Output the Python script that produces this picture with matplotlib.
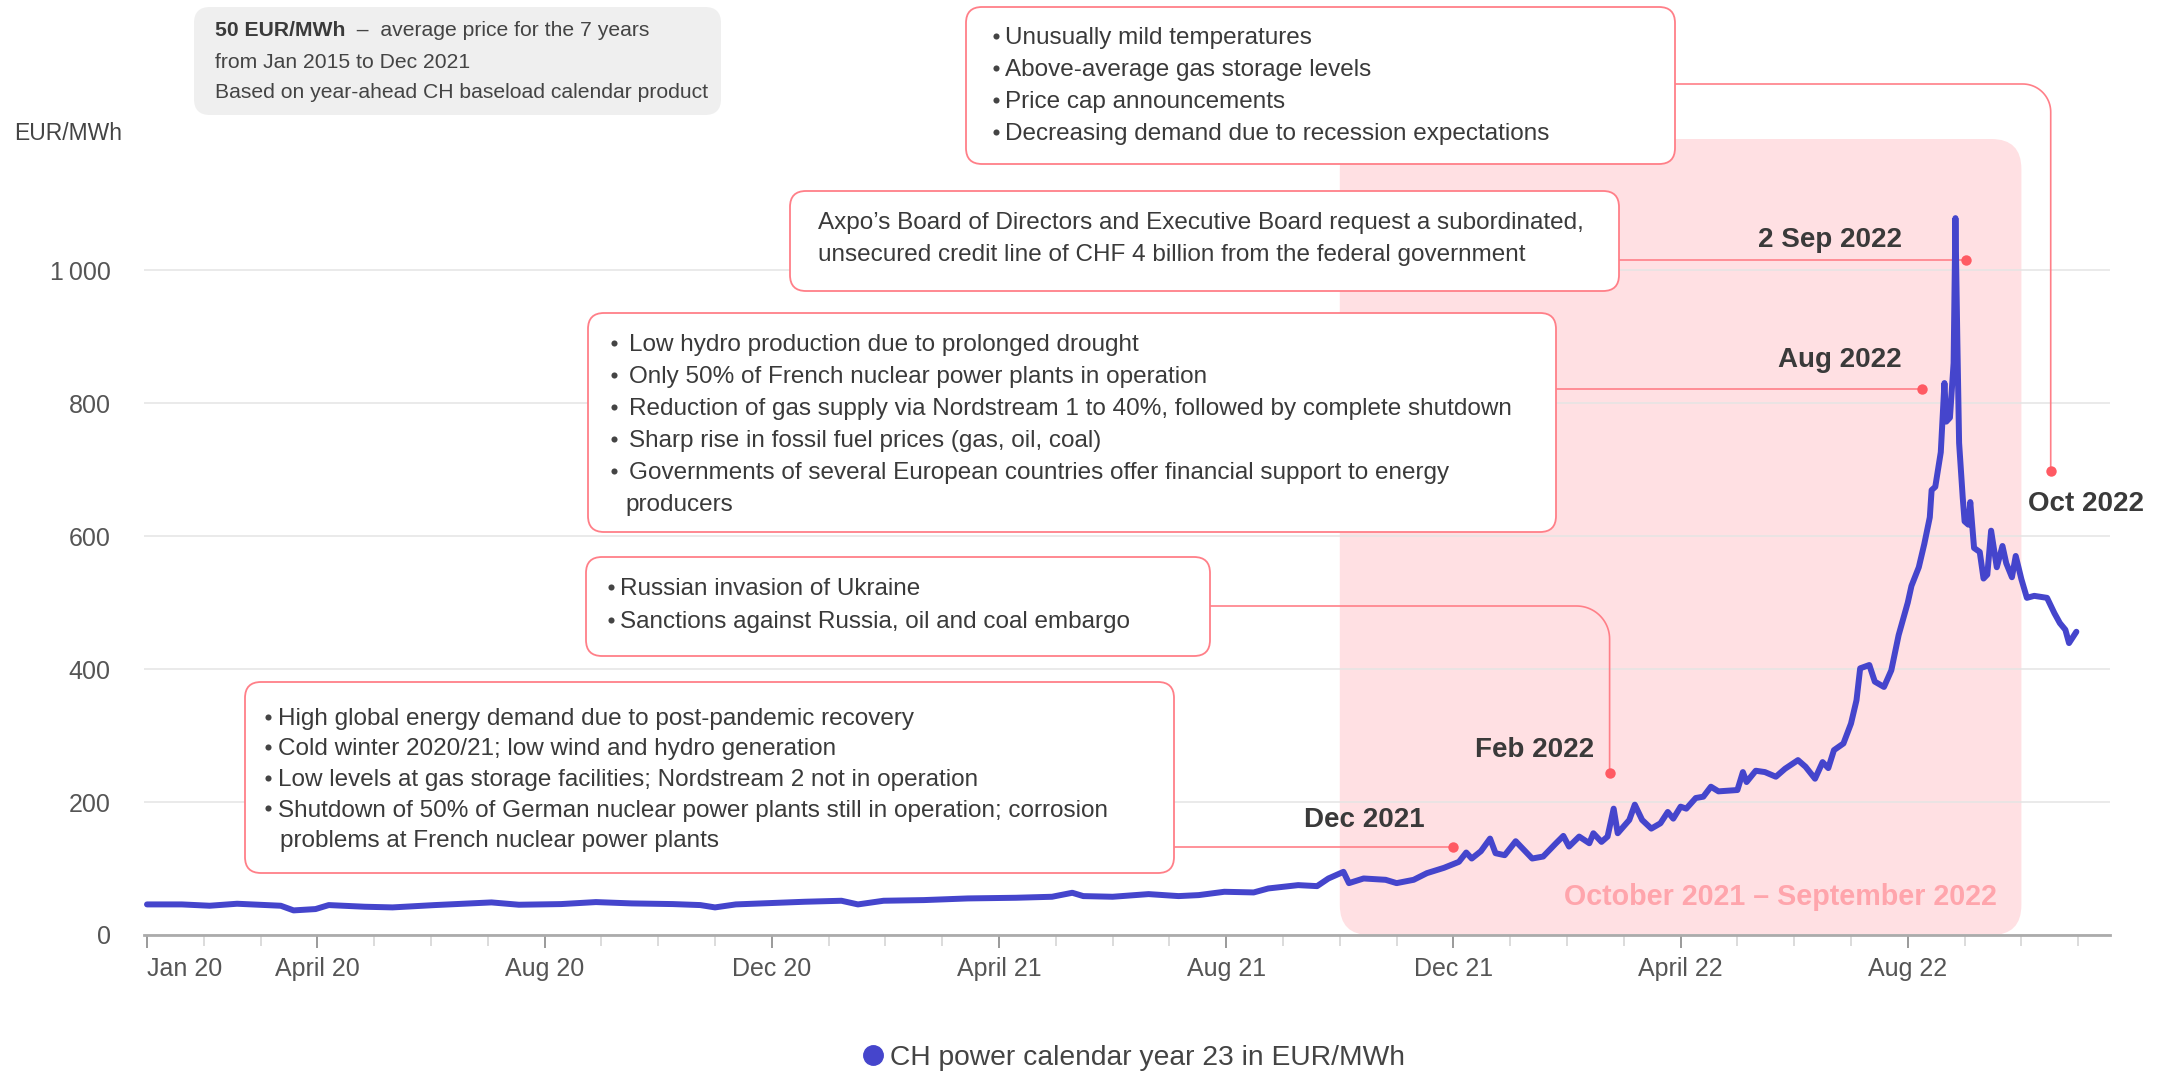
import numpy as np
import pandas as pd
import matplotlib
matplotlib.use("Agg")
import matplotlib.pyplot as plt
import matplotlib.transforms as mtransforms
from matplotlib.patches import FancyBboxPatch
from matplotlib.lines import Line2D

plt.rcParams['font.family'] = ['Liberation Sans', 'DejaVu Sans']

# ---------------- data ----------------
dates = [
    "2020-01-01", "2020-01-20", "2020-02-04", "2020-02-18", "2020-03-12", "2020-03-19", "2020-03-31",
    "2020-04-07", "2020-04-26", "2020-05-11", "2020-06-03", "2020-07-03", "2020-07-18", "2020-08-10",
    "2020-08-29", "2020-09-17", "2020-10-09", "2020-10-24", "2020-11-01", "2020-11-12", "2020-12-01",
    "2020-12-19", "2021-01-08", "2021-01-17", "2021-01-31", "2021-02-20", "2021-03-15", "2021-04-10",
    "2021-04-29", "2021-05-10", "2021-05-16", "2021-06-01", "2021-06-20", "2021-07-06", "2021-07-17",
    "2021-07-31", "2021-08-16", "2021-08-24", "2021-09-09", "2021-09-19", "2021-09-25", "2021-10-03",
    "2021-10-06", "2021-10-14", "2021-10-26", "2021-11-01", "2021-11-10", "2021-11-17", "2021-11-26",
    "2021-12-04", "2021-12-08", "2021-12-11", "2021-12-16", "2021-12-21", "2021-12-24", "2021-12-29",
    "2022-01-04", "2022-01-13", "2022-01-19", "2022-01-26", "2022-01-30", "2022-02-02", "2022-02-07",
    "2022-02-12", "2022-02-14", "2022-02-18", "2022-02-21", "2022-02-24", "2022-02-26", "2022-03-04",
    "2022-03-07", "2022-03-11", "2022-03-16", "2022-03-21", "2022-03-25", "2022-03-28", "2022-04-01",
    "2022-04-04", "2022-04-09", "2022-04-13", "2022-04-17", "2022-04-21", "2022-04-26", "2022-05-01",
    "2022-05-04", "2022-05-06", "2022-05-11", "2022-05-16", "2022-05-22", "2022-05-27", "2022-06-03",
    "2022-06-07", "2022-06-12", "2022-06-16", "2022-06-19", "2022-06-22", "2022-06-27", "2022-07-01",
    "2022-07-04", "2022-07-06", "2022-07-11", "2022-07-14", "2022-07-19", "2022-07-23", "2022-07-27",
    "2022-08-01", "2022-08-03", "2022-08-07", "2022-08-10", "2022-08-13", "2022-08-14", "2022-08-16",
    "2022-08-19", "2022-08-21", "2022-08-22", "2022-08-24", "2022-08-26", "2022-08-27", "2022-08-28",
    "2022-08-29", "2022-08-31", "2022-09-01", "2022-09-03", "2022-09-04", "2022-09-06", "2022-09-09",
    "2022-09-11", "2022-09-13", "2022-09-15", "2022-09-18", "2022-09-21", "2022-09-23", "2022-09-26",
    "2022-09-28", "2022-10-01", "2022-10-04", "2022-10-08", "2022-10-15", "2022-10-19", "2022-10-22",
    "2022-10-25", "2022-10-27", "2022-10-31",
]
prices = [
    46, 46, 44, 47, 44, 37, 39,
    45, 42.5, 41.5, 45, 49, 45.5, 46.5,
    49.5, 47.5, 46.5, 45, 41.5, 46, 48,
    50, 51.5, 46, 51.5, 52.5, 55, 56,
    57.5, 63.5, 58.5, 57.5, 61.5, 58.5, 60,
    65, 64, 70, 75, 73.5, 85, 95,
    78, 85, 83, 78, 83, 93, 101,
    110, 124, 115, 126, 145, 123, 120,
    141, 115, 118, 138, 149, 133, 148,
    138, 153, 140, 148, 190, 153, 173,
    196, 173, 160, 168, 185, 175, 193,
    190, 206, 208, 223, 216, 217, 218,
    245, 230, 247, 245, 238, 250, 263,
    253, 235, 260, 251, 278, 288, 318,
    353, 401, 406, 381, 373, 398, 451,
    500, 525, 553, 588, 628, 669, 674,
    726, 830, 772, 778, 860, 1078, 900,
    740, 657, 622, 617, 651, 582, 576,
    536, 542, 608, 553, 585, 559, 538,
    570, 535, 507, 510, 507, 484, 469,
    459, 439, 456,
]
series_label = "CH power calendar year 23 in EUR/MWh"

y_ticks = [0, 200, 400, 600, 800, 1000]
y_tick_labels = ["0", "200", "400", "600", "800", "1\u2009000"]
x_tick_dates = ["2020-01-01", "2020-04-01", "2020-08-01", "2020-12-01", "2021-04-01",
                "2021-08-01", "2021-12-01", "2022-04-01", "2022-08-01"]
x_tick_labels = ["Jan 20", "April 20", "Aug 20", "Dec 20", "April 21",
                 "Aug 21", "Dec 21", "April 22", "Aug 22"]
minor_tick_range = ("2020-01-01", "2022-11-01")
period_start, period_end = "2021-10-01", "2022-10-01"
period_label = "October 2021 \u2013 September 2022"

event_labels = ["Dec 2021", "Feb 2022", "Aug 2022", "2 Sep 2022", "Oct 2022"]
event_dates = ["2021-12-01", "2022-02-22", "2022-08-09", "2022-09-02", "2022-10-17"]
event_values = [133, 244, 821, 1015, 697]

note_avg_bold = "50 EUR/MWh"
note_avg = ["  \u2013  average price for the 7 years", "from Jan 2015 to Dec 2021",
            "Based on year-ahead CH baseload calendar product"]
note_dec21 = ["High global energy demand due to post-pandemic recovery",
              "Cold winter 2020/21; low wind and hydro generation",
              "Low levels at gas storage facilities; Nordstream 2 not in operation",
              "Shutdown of 50% of German nuclear power plants still in operation; corrosion",
              "\tproblems at French nuclear power plants"]
note_feb22 = ["Russian invasion of Ukraine",
              "Sanctions against Russia, oil and coal embargo"]
note_aug22 = ["Low hydro production due to prolonged drought",
              "Only 50% of French nuclear power plants in operation",
              "Reduction of gas supply via Nordstream 1 to 40%, followed by complete shutdown",
              "Sharp rise in fossil fuel prices (gas, oil, coal)",
              "Governments of several European countries offer financial support to energy",
              "\tproducers"]
note_sep22 = ["Axpo\u2019s Board of Directors and Executive Board request a subordinated,",
              "unsecured credit line of CHF 4 billion from the federal government"]
note_oct22 = ["Unusually mild temperatures",
              "Above-average gas storage levels",
              "Price cap announcements",
              "Decreasing demand due to recession expectations"]

# ---------------- styling ----------------
BLUE = "#4545CC"
PINK_FILL = "#FFE0E3"
PINK_TEXT = "#FFA5AC"
RED_LINE = "#FF7F88"
RED_DOT = "#FF5A63"
TXT = "#3A3A3A"
TICK_TXT = "#555555"


def mpos(s):
    t = pd.Timestamp(s)
    return (t.year - 2020) * 12 + (t.month - 1) + (t.day - 1) / t.days_in_month


W, H, DPI = 2174, 1076, 100
fig = plt.figure(figsize=(W / DPI, H / DPI), dpi=DPI)
AX_L, AX_R, AX_T, AX_B = 144, 2110, 139, 935
ax = fig.add_axes([AX_L / W, 1 - AX_B / H, (AX_R - AX_L) / W, (AX_B - AX_T) / H])
ax.patch.set_alpha(0)
PPM = 56.8  # pixels per month
ax.set_xlim((AX_L - 147) / PPM, (AX_R - 147) / PPM)
ax.set_ylim(0, 1197)

PX = mtransforms.Affine2D().scale(1, -1).translate(0, H)


def d2px(xd, yd):
    X, Y = ax.transData.transform((xd, yd))
    return X, H - Y


# line
xm = np.array([mpos(d) for d in dates])
ax.plot(xm, prices, color=BLUE, lw=4.3, solid_joinstyle="round", solid_capstyle="round",
        zorder=4, label=series_label)

# axes styling
for s in ["left", "right", "top"]:
    ax.spines[s].set_visible(False)
ax.spines["bottom"].set_color("#ABABAB")
ax.spines["bottom"].set_linewidth(2.0)
ax.spines["bottom"].set_zorder(4.5)
ax.set_axisbelow(True)
ax.yaxis.grid(True, color="#E4E4E4", lw=1.1)
ax.set_yticks(y_ticks)
ax.set_yticklabels(y_tick_labels)
ax.tick_params(axis="y", length=0, pad=24, labelsize=18, labelcolor=TICK_TXT)

ax.set_xticks([mpos(d) for d in x_tick_dates])
ax.set_xticklabels(x_tick_labels)
m0, m1 = int(round(mpos(minor_tick_range[0]))), int(round(mpos(minor_tick_range[1])))
ax.set_xticks(list(range(m0, m1 + 1)), minor=True)
ax.tick_params(axis="x", which="major", length=9, width=1.4, color="#9A9A9A",
               labelsize=18, labelcolor=TICK_TXT, pad=7)
ax.tick_params(axis="x", which="minor", length=8, width=1.2, color="#D6D6D6")
ax.get_xticklabels()[0].set_horizontalalignment("left")

# shaded period
sx0 = d2px(mpos(period_start), 0)[0]
sx1 = d2px(mpos(period_end), 0)[0]
ax.add_patch(FancyBboxPatch((sx0, AX_T), sx1 - sx0, AX_B - AX_T,
                            boxstyle="round,pad=0,rounding_size=30", transform=PX,
                            fc=PINK_FILL, ec="none", zorder=0.2, clip_on=False))
ax.text(1997, 897, period_label, transform=PX, ha="right", va="center", fontsize=20.6,
        fontweight="bold", color=PINK_TEXT, zorder=1, clip_on=False)

# y unit
ax.text(14, 134, "EUR/MWh", transform=PX, ha="left", va="center", fontsize=16.5,
        color="#444444", clip_on=False)


def box(x0, y0, x1, y1, fc, ec, r=16, lw=1.3):
    ax.add_patch(FancyBboxPatch((x0, y0), x1 - x0, y1 - y0,
                                boxstyle=f"round,pad=0,rounding_size={r}", transform=PX,
                                fc=fc, ec=ec, lw=lw, zorder=5, clip_on=False))


def note(x0, y0, x1, y1, lines, first_y, step, bx, tx, cx=None, bullets=True, fs=17.5):
    box(x0, y0, x1, y1, "white", RED_LINE)
    for i, s in enumerate(lines):
        y = first_y + i * step
        cont = s.startswith("\t")
        if bullets and not cont:
            ax.plot([bx], [y - 2.5], "o", ms=4.4, mec="none", color="#444444",
                    transform=PX, zorder=6, clip_on=False)
        ax.text(cx if (cont and cx) else tx, y, s.strip("\t"), transform=PX, ha="left",
                va="center", fontsize=fs, color=TXT, zorder=6, clip_on=False)


def connector(xs, ys, xe, ye, r=30):
    if abs(ye - ys) < 1:
        pts = np.array([(xs, ys), (xe, ys)])
    else:
        th = np.linspace(np.pi / 2, 0, 24)
        cx, cy = xe - r, ys + r
        arc = np.column_stack([cx + r * np.cos(th), cy - r * np.sin(th)])
        pts = np.vstack([[(xs, ys)], arc, [(xe, ye)]])
    ax.plot(pts[:, 0], pts[:, 1], transform=PX, color=RED_LINE, lw=1.2, zorder=3,
            clip_on=False)


# event dots (data coordinates)
ev_m = [mpos(d) for d in event_dates]
ev_px = [d2px(m, v) for m, v in zip(ev_m, event_values)]
ax.plot(ev_m, event_values, "o", color=RED_DOT, ms=7.5, mec="none", zorder=6, clip_on=False)

# gray average box
box(194, 7, 721, 115, "#EFEFEF", "none", r=16, lw=0)
tb = ax.text(215, 31, note_avg_bold, transform=PX, ha="left", va="center", fontsize=15.2,
             fontweight="bold", color="#3A3A3A", zorder=6, clip_on=False)
ax.annotate(note_avg[0], xy=(1, 0.5), xycoords=tb, ha="left", va="center", fontsize=15.2,
            color="#444444", zorder=6)
ax.text(215, 62, note_avg[1], transform=PX, ha="left", va="center", fontsize=15.2,
        color="#444444", zorder=6, clip_on=False)
ax.text(215, 92, note_avg[2], transform=PX, ha="left", va="center", fontsize=15.2,
        color="#444444", zorder=6, clip_on=False)

# notes
note(245, 682, 1174, 873, note_dec21, 719, 30.5, 268, 278, cx=280)
connector(1174, ev_px[0][1], ev_px[0][0], ev_px[0][1])
note(586, 557, 1210, 656, note_feb22, 589, 33, 611, 620)
connector(1210, 606, ev_px[1][0], ev_px[1][1], r=33)
note(588, 313, 1556, 532, note_aug22, 345, 32, 614, 629, cx=625)
connector(1556, ev_px[2][1], ev_px[2][0], ev_px[2][1])
note(790, 191, 1619, 291, note_sep22, 223, 32, 0, 818, bullets=False)
connector(1619, ev_px[3][1], ev_px[3][0], ev_px[3][1])
note(966, 7, 1675, 164, note_oct22, 38, 32, 996, 1005)
connector(1675, 84, ev_px[4][0], ev_px[4][1], r=28)

# event labels
label_pos = [(1425, 820, "right"), (1594, 750, "right"), (1902, 360, "right"),
             (1902, 240, "right"), (2028, 504, "left")]
for (lx, ly, ha), s in zip(label_pos, event_labels):
    ax.text(lx, ly, s, transform=PX, ha=ha, va="center", fontsize=20, fontweight="bold",
            color="#3A3A3A", zorder=7, clip_on=False)

# legend
handle = Line2D([], [], marker="o", ls="", color=BLUE, ms=14)
fig.legend([handle], [series_label], loc="center", bbox_to_anchor=(0.5205, 0.0167),
           frameon=False, fontsize=20.3, handletextpad=0.1, labelcolor="#444444",
           handlelength=1.0)

fig.savefig("out.png", dpi=DPI)
